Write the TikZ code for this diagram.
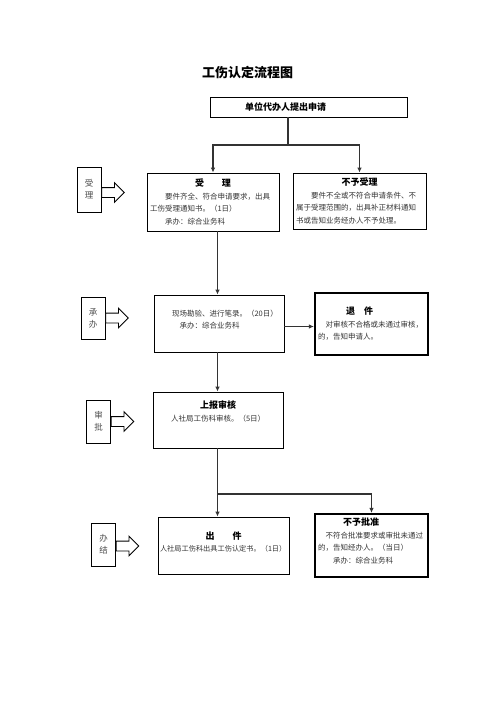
\documentclass[tikz,border=0pt]{standalone}
\usepackage{fontspec}
\setmainfont{Noto Sans CJK SC}
\usetikzlibrary{shapes.arrows, arrows.meta, positioning}
\newcommand{\boxhead}[1]{\hfill{\fontsize{9}{12.5}\selectfont\bfseries\color{black}#1}\hfill\null}
\newcommand{\lowpad}[1]{\rule[-#1]{0pt}{0pt}}

\begin{document}
\begin{tikzpicture}[x=1pt, y=-1pt,
    box/.style={draw, line width=0.8pt, inner xsep=3pt, inner ysep=2pt, align=left, font=\fontsize{7.5}{12.5}\selectfont, text=black!80},
    heavybox/.style={box, line width=2.2pt},
    sidebox/.style={draw, line width=0.8pt, minimum width=24pt, inner sep=0pt, align=center, font=\fontsize{8.5}{12}\selectfont, text=black!70},
    hollow/.style={single arrow, draw, line width=0.8pt, fill=white, minimum height=22.5pt, inner sep=4.5pt, single arrow head extend=5pt},
    flow/.style={line width=1.6pt, draw=black!80, -{Latex[length=5pt, width=4.5pt]}}]
        \useasboundingbox (0,0) rectangle (496,702);

        \node (title) at (247.5,73) {\fontsize{13}{13}\selectfont\bfseries 工伤认定流程图};

        \node[box, text width=191pt, minimum height=20pt] (apply) at (308.5,107)
            {\hspace*{32pt}{\fontsize{9}{9}\selectfont\bfseries\color{black}单位代办人提出申请}};

        \node[box, text width=126pt, minimum height=58pt] (accept) at (213,202)
            {\boxhead{受\qquad 理}\\ \hspace*{2em}要件齐全、符合申请要求，出具\\ 工伤受理通知书。（1日）\\ \hspace*{2em}承办：综合业务科};
        \node[box, text width=127pt, minimum height=56pt] (refuse) at (359.5,201)
            {\boxhead{不予受理}\\ \hspace*{2em}要件不全或不符合申请条件、不\\ 属于受理范围的，出具补正材料通知\\ 书或告知业务经办人不予处理。};

        \node[box, text width=124pt, minimum height=57pt] (survey) at (219,323.5)
            {\hspace*{2em}现场勘验、进行笔录。（20日）\\ \hspace*{3em}承办：综合业务科\lowpad{8pt}};
        \node[heavybox, text width=107pt, minimum height=62pt] (return) at (371.5,324)
            {\hspace*{28pt}{\fontsize{9}{12.5}\selectfont\bfseries\color{black}退\quad 件}\\ \hspace*{1em}对审核不合格或未通过审核，\\ 的，告知申请人。};

        \node[box, text width=124pt, minimum height=56pt] (review) at (218,420)
            {\boxhead{上报审核}\\ \hspace*{2em}人社局工伤科审核。（5日）\lowpad{18pt}};

        \node[box, inner xsep=2pt, text width=127pt, minimum height=57pt, font=\fontsize{7.2}{12.5}\selectfont] (issue) at (223.5,545.5)
            {\boxhead{出\qquad 件}\\ 人社局工伤科出具工伤认定书。（1日）\lowpad{8pt}};
        \node[heavybox, text width=107pt, minimum height=63pt] (deny) at (371.5,545.5)
            {\hspace*{25pt}{\fontsize{9}{12.5}\selectfont\bfseries\color{black}不予批准}\\ \hspace*{1em}不符合批准要求或审批未通过\\ 的，告知经办人。（当日）\\ \hspace*{2em}承办：综合业务科\lowpad{10pt}};

        % stage labels on the left
        \node[sidebox, minimum height=45pt] (s1) at (89,189.5) {受\\理};
        \node[sidebox, minimum height=42pt] (s2) at (93,318) {承\\办};
        \node[sidebox, minimum height=43pt] (s3) at (98.5,421.5) {审\\批};
        \node[sidebox, minimum height=43pt] (s4) at (103.5,544.5) {办\\结};
        \node[hollow, right=0pt of s1, yshift=-3pt] (a1) {};
        \node[hollow, right=0pt of s2] (a2) {};
        \node[hollow, right=0pt of s3] (a3) {};
        \node[hollow, right=0pt of s4, yshift=-1.5pt] (a4) {};

        % connectors
        \coordinate (fork) at (288,145);
        \coordinate (spine) at (217.5,0);
        \coordinate (fork2) at (217.5,494);
        \draw[flow] (apply.south -| fork) -- (fork) -| (accept.north);
        \draw[flow] (fork) -| (refuse.north);
        \draw[flow] (accept.south -| spine) -- (survey.north -| spine);
        \draw[flow] ([yshift=-3pt]survey.east) -- ([yshift=-3pt]survey.east -| return.west);
        \draw[flow] (survey.south -| spine) -- (review.north -| spine);
        \draw[flow] (review.south -| spine) -- (issue.north -| spine);
        \draw[flow] (fork2) -| (deny.north);
    \end{tikzpicture}
\end{document}
